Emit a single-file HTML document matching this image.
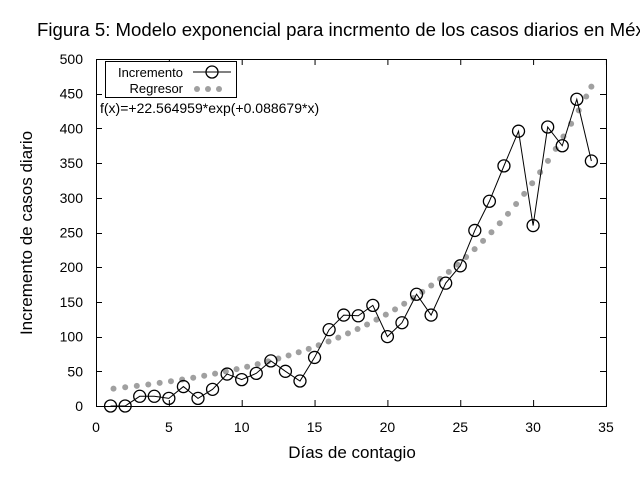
<!DOCTYPE html><html><head><meta charset="utf-8"><style>body{margin:0;background:#fff;overflow:hidden}svg{display:block}text{font-family:"Liberation Sans",Arial,sans-serif}</style></head><body>
<svg width="640" height="480" xmlns="http://www.w3.org/2000/svg">
<text x="37" y="36" font-size="18.6">Figura 5: Modelo exponencial para incrmento de los casos diarios en México</text>
<g id="ticks" stroke="#000" stroke-width="1"></g>
<g id="lab" font-size="14"></g>
<rect x="96.5" y="59.5" width="510" height="347" fill="none" stroke="#000"/>
<text x="352" y="458" font-size="17" text-anchor="middle">Días de contagio</text>
<text transform="translate(32,233) rotate(-90)" font-size="17" text-anchor="middle">Incremento de casos diario</text>
<g id="reg" fill="#a0a0a0"></g>
<polyline id="ln" fill="none" stroke="#000" stroke-width="1"/>
<g id="circ" fill="none" stroke="#000" stroke-width="1.3"></g>
<rect x="105.5" y="61.5" width="131" height="36" fill="#fff" stroke="#000"/>
<text x="183" y="77" font-size="13" text-anchor="end">Incremento</text>
<text x="183" y="93" font-size="13" text-anchor="end">Regresor</text>
<line x1="193" y1="72" x2="231" y2="72" stroke="#000"/>
<circle cx="212" cy="72" r="6" fill="none" stroke="#000" stroke-width="1.3"/>
<circle cx="197" cy="89" r="3" fill="#a0a0a0"/><circle cx="208" cy="89" r="3" fill="#a0a0a0"/><circle cx="219" cy="89" r="3" fill="#a0a0a0"/>
<text x="100" y="113" font-size="14">f(x)=+22.564959*exp(+0.088679*x)</text>
</svg>
<script>
var ns="http://www.w3.org/2000/svg";
function X(v){return 96+v*14.57}function Y(v){return 406-v*0.694}
function el(p,t,a,txt){var e=document.createElementNS(ns,t);for(var k in a)e.setAttribute(k,a[k]);if(txt!=null)e.textContent=txt;document.getElementById(p).appendChild(e);}
for(var i=0;i<=35;i+=5){var x=X(i)+.5;el("ticks","line",{x1:x,y1:406,x2:x,y2:400});el("ticks","line",{x1:x,y1:59,x2:x,y2:65});el("lab","text",{x:X(i),y:432,"text-anchor":"middle"},i);}
for(var j=0;j<=500;j+=50){var y=Math.round(Y(j))+.5;el("ticks","line",{x1:96,y1:y,x2:102,y2:y});el("ticks","line",{x1:606,y1:y,x2:600,y2:y});el("lab","text",{x:83,y:Y(j)+5,"text-anchor":"end"},j);}
var px=113.5;while(px<=592){var t=(px-96)/14.57;el("reg","circle",{cx:px,cy:Y(22.564959*Math.exp(0.088679*t)),r:3});var f=(px-113.5)/(591-113.5);px+=11.7-4.3*f;}
if(px-7.4<588){el("reg","circle",{cx:X(34),cy:Y(22.564959*Math.exp(0.088679*34)),r:3});}
var d=[0,0,14,14,11,28,11,24,46,38,47,65,50,36,70,110,131,130,145,100,120,161,131,177,202,253,295,346,396,260,402,375,442,353];
var pts=d.map(function(v,i){return X(i+1)+","+Y(v)}).join(" ");document.getElementById("ln").setAttribute("points",pts);
d.forEach(function(v,i){el("circ","circle",{cx:X(i+1),cy:Y(v),r:6});});
</script>
</body></html>
